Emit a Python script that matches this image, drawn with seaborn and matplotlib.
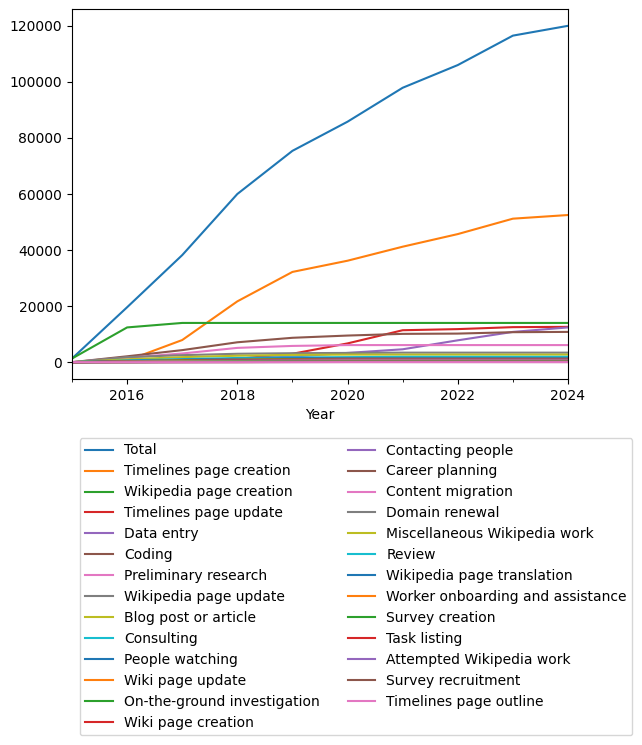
import numpy as np
import pandas as pd
import matplotlib
matplotlib.use("Agg")
import matplotlib.pyplot as plt
from matplotlib.ticker import MultipleLocator
import seaborn as sns

years = [2015, 2016, 2017, 2018, 2019, 2020, 2021, 2022, 2023, 2024]

total = [1300, 19600, 38200, 60000, 75400, 85800, 97900, 106000, 116500, 120000]
timelines_page_creation = [0, 600, 7900, 21700, 32200, 36200, 41200, 45700, 51200, 52500]
wikipedia_page_creation = [1300, 12400, 14000, 14000, 14000, 14000, 14000, 14000, 14000, 14000]
timelines_page_update = [0, 300, 700, 1200, 3000, 6700, 11400, 11800, 12500, 12600]
data_entry = [0, 200, 600, 1200, 2000, 3300, 4600, 7800, 10800, 12400]
coding = [0, 2100, 4300, 7100, 8700, 9500, 10100, 10200, 10700, 10800]
preliminary_research = [0, 1600, 3100, 5100, 5800, 6100, 6100, 6100, 6100, 6100]
wikipedia_page_update = [0, 1800, 2500, 3000, 3200, 3300, 3400, 3400, 3400, 3400]
blog_post = [0, 1000, 1800, 2300, 2600, 2700, 2700, 2700, 2700, 2700]
consulting = [0, 600, 1100, 1500, 1700, 1800, 1900, 1900, 1900, 1900]
people_watching = [0, 500, 900, 1200, 1400, 1500, 1500, 1500, 1500, 1500]
wiki_page_update = [0, 300, 700, 900, 1100, 1200, 1200, 1200, 1200, 1200]
on_the_ground = [0, 300, 600, 800, 1000, 1100, 1100, 1100, 1100, 1100]
wiki_page_creation = [0, 200, 500, 700, 900, 1000, 1000, 1000, 1000, 1000]
contacting_people = [0, 200, 400, 600, 800, 900, 900, 900, 900, 900]
career_planning = [0, 200, 400, 600, 700, 800, 800, 800, 800, 800]
content_migration = [0, 100, 300, 400, 500, 600, 600, 600, 600, 600]
domain_renewal = [0, 100, 200, 300, 400, 500, 500, 500, 500, 500]
misc_wikipedia = [0, 100, 200, 300, 300, 400, 400, 400, 400, 400]
review = [0, 50, 100, 200, 250, 300, 300, 300, 300, 300]
wikipedia_page_translation = [0, 50, 100, 150, 200, 250, 250, 250, 250, 250]
worker_onboarding = [0, 50, 100, 150, 150, 200, 200, 200, 200, 200]
survey_creation = [0, 0, 50, 100, 100, 150, 150, 150, 150, 150]
task_listing = [0, 0, 50, 50, 100, 100, 100, 100, 100, 100]
attempted_wikipedia = [0, 0, 0, 50, 50, 80, 80, 80, 80, 80]
survey_recruitment = [0, 0, 0, 0, 50, 50, 50, 50, 50, 50]
timelines_page_outline = [0, 0, 0, 0, 0, 20, 20, 20, 20, 20]

series_names = [
    "Total", "Timelines page creation", "Wikipedia page creation",
    "Timelines page update", "Data entry", "Coding", "Preliminary research",
    "Wikipedia page update", "Blog post or article", "Consulting",
    "People watching", "Wiki page update", "On-the-ground investigation",
    "Wiki page creation", "Contacting people", "Career planning",
    "Content migration", "Domain renewal", "Miscellaneous Wikipedia work",
    "Review", "Wikipedia page translation", "Worker onboarding and assistance",
    "Survey creation", "Task listing", "Attempted Wikipedia work",
    "Survey recruitment", "Timelines page outline",
]
series_values = [
    total, timelines_page_creation, wikipedia_page_creation,
    timelines_page_update, data_entry, coding, preliminary_research,
    wikipedia_page_update, blog_post, consulting, people_watching,
    wiki_page_update, on_the_ground, wiki_page_creation, contacting_people,
    career_planning, content_migration, domain_renewal, misc_wikipedia,
    review, wikipedia_page_translation, worker_onboarding, survey_creation,
    task_listing, attempted_wikipedia, survey_recruitment,
    timelines_page_outline,
]

rows = []
for name, vals in zip(series_names, series_values):
    for y, v in zip(years, vals):
        rows.append({"Year": y, "Series": name, "Value": v})
df = pd.DataFrame(rows)

tab10 = sns.color_palette("tab10", 10)
palette = {name: tab10[i % 10] for i, name in enumerate(series_names)}

fig = plt.figure(figsize=(6.42, 7.45), dpi=100)
ax = fig.add_axes([72 / 642, 1 - 379 / 745, 496 / 642, 370 / 745])

sns.lineplot(data=df, x="Year", y="Value", hue="Series", hue_order=series_names,
             palette=palette, ax=ax, linewidth=1.5, legend=False)

ax.set_xlim(2015, 2024)
ax.xaxis.set_major_locator(MultipleLocator(2))
ax.xaxis.set_minor_locator(MultipleLocator(1))
ax.set_xticks([2016, 2018, 2020, 2022, 2024])
ax.set_xlabel("Year")
ax.set_ylabel("")
ax.set_yticks([0, 20000, 40000, 60000, 80000, 100000, 120000])

handles = [plt.Line2D([], [], color=palette[n], lw=1.5) for n in series_names]
fig.legend(handles, series_names, loc="upper center", ncol=2,
           bbox_to_anchor=(356 / 642, 1 - 431 / 745), fontsize=10)

fig.savefig("out.png", dpi=100)
